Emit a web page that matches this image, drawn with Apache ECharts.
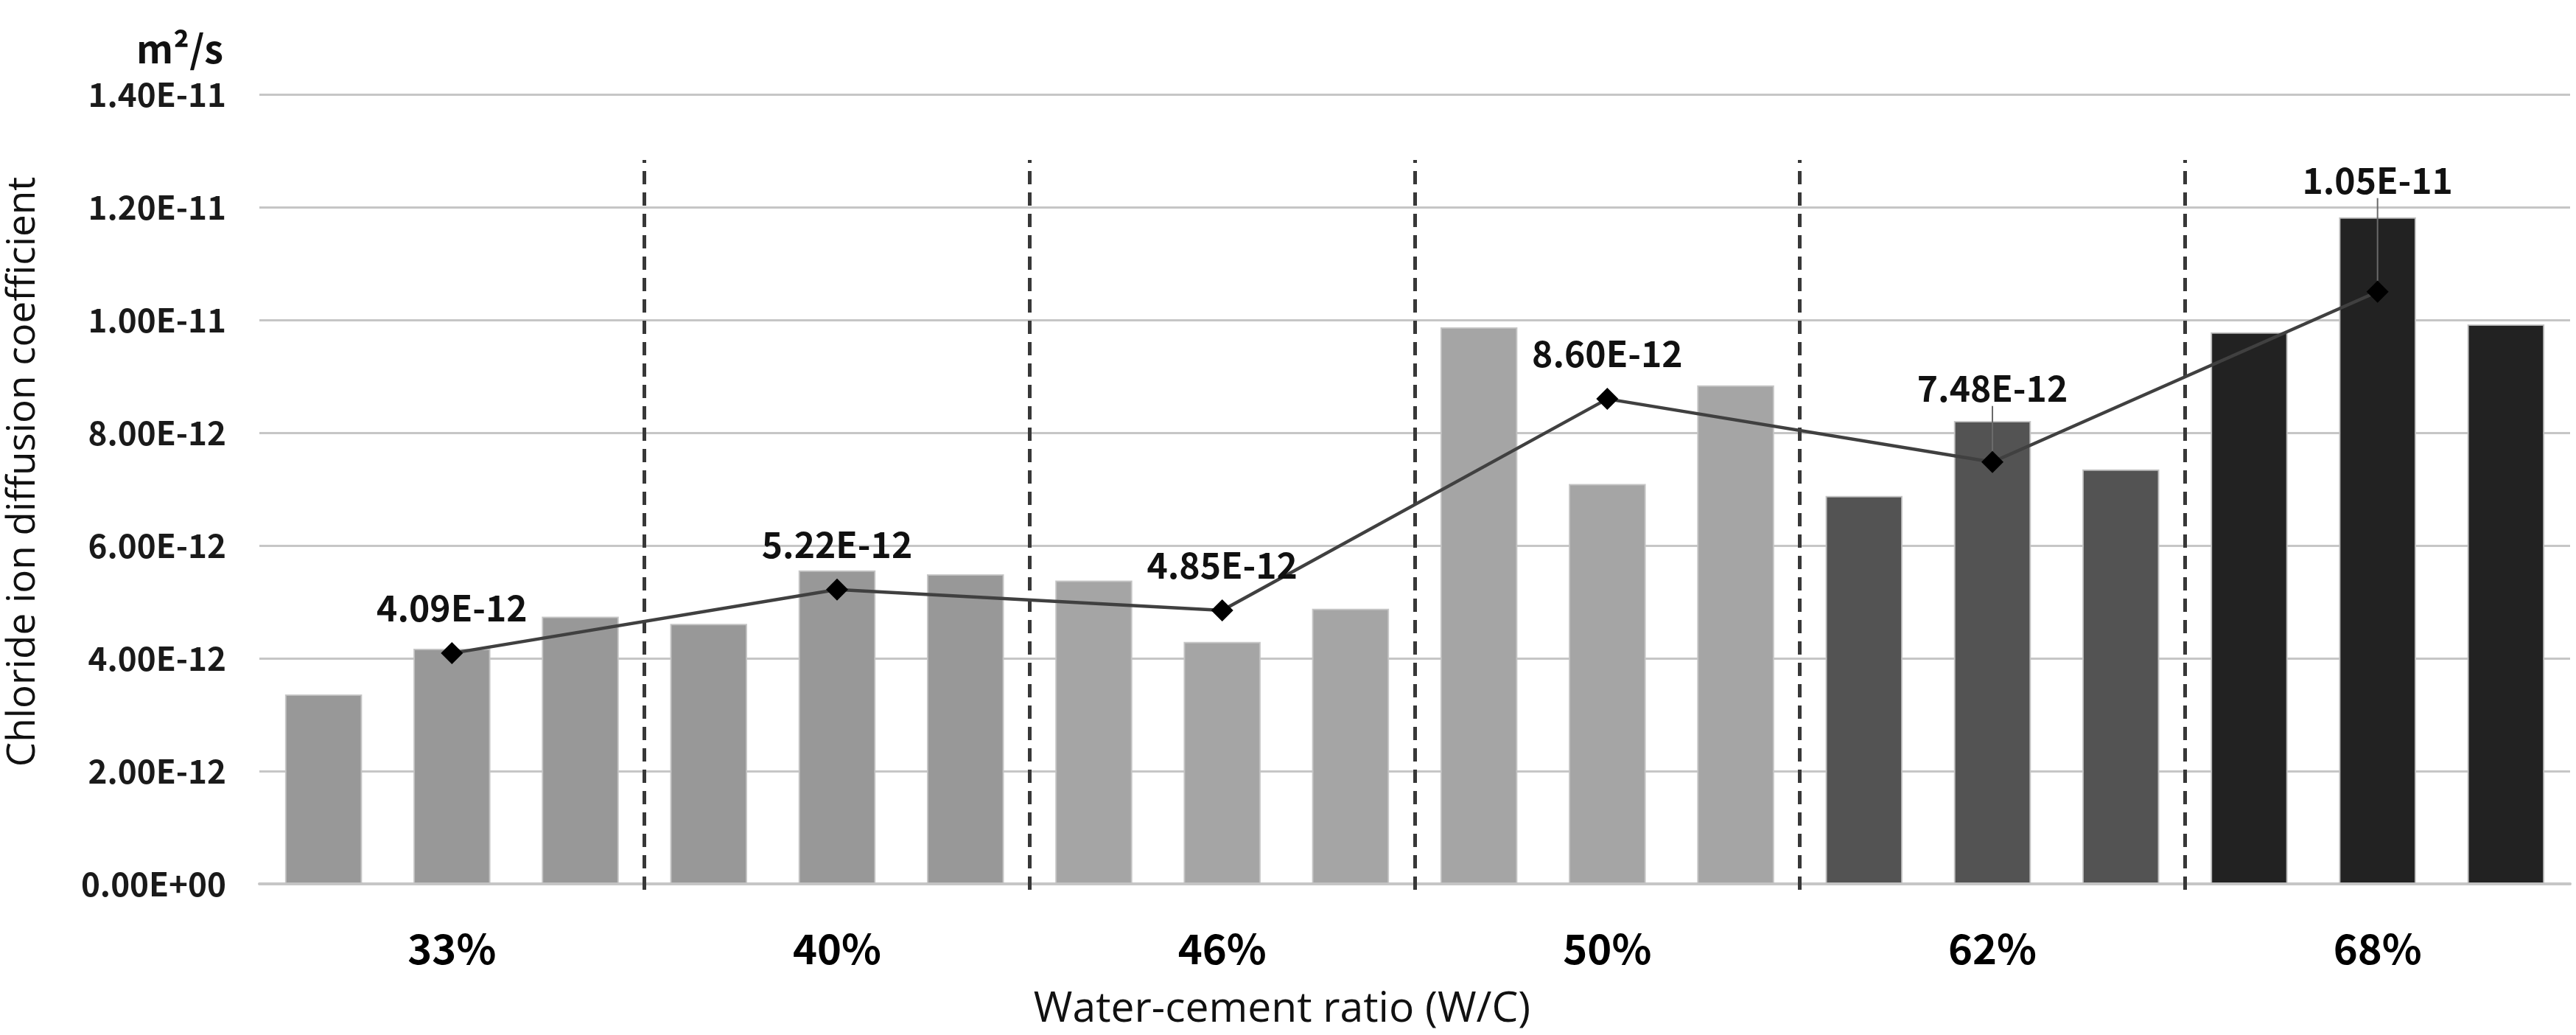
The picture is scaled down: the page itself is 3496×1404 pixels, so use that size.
<!DOCTYPE html>
<html>
<head>
<meta charset="utf-8">
<script src="https://cdn.jsdelivr.net/npm/echarts@6/dist/echarts.min.js"></script>
<style>
  html, body { margin: 0; padding: 0; background: #ffffff; }
  #chart { width: 3496px; height: 1404px; }
</style>
</head>
<body>
<div id="chart"></div>
<script>
// ---- data (values in units of 1E-12 m²/s) ----
const UNIT = 1e-12;
const categories = ['33%', '40%', '46%', '50%', '62%', '68%'];
const sample1 = [3.36, 4.61, 5.38, 9.87, 6.88, 9.78];
const sample2 = [4.17, 5.56, 4.29, 7.09, 8.21, 11.82];
const sample3 = [4.74, 5.49, 4.88, 8.84, 7.35, 9.92];
const means   = [4.09, 5.22, 4.85, 8.60, 7.48, 10.5];
const yTicks = { min: 0, max: 14, interval: 2 };
const dividers = [1, 2, 3, 4, 5];
const unitText = 'm²/s';
const xTitle = 'Water-cement ratio (W/C)';
const yTitle = 'Chloride ion diffusion coefficient';

// ---- helpers ----
function sci(x) {
  if (x === 0) return '0.00E+00';
  const parts = x.toExponential(2).split('e');
  const sign = parts[1][0] === '-' ? '-' : '+';
  const digits = parts[1].replace(/^[+-]/, '').padStart(2, '0');
  return parts[0] + 'E' + sign + digits;
}

const groupColors = ['#989898', '#989898', '#a5a5a5', '#a5a5a5', '#535353', '#222222'];
const barSlots = [];
const barData = [];
categories.forEach(function (c, g) {
  [sample1, sample2, sample3].forEach(function (s, k) {
    barSlots.push(c + '-' + (k + 1));
    barData.push({ value: s[g], itemStyle: { color: groupColors[g] } });
  });
});
const lineData = means.map(function (v, i) {
  return { value: v, labelLine: { show: i >= 4 } };
});
const raise = { 4: -39, 5: -90 };

const BOLD = '"Noto Sans CJK KR", "Open Sans", sans-serif';
const REG = '"Open Sans", sans-serif';
const chart = echarts.init(document.getElementById('chart'), null, { renderer: 'canvas' });
chart.setOption({
  animation: false,
  backgroundColor: '#ffffff',
  grid: [
    { left: 352, right: 8, top: 128, bottom: 205 },
    { left: 352, right: 8, top: 217, bottom: 197 }
  ],
  xAxis: [
    {
      type: 'category', gridIndex: 0, data: barSlots,
      axisLabel: { show: false }, axisTick: { show: false },
      axisLine: { show: true, lineStyle: { color: '#c6c6c6', width: 4 } },
      splitLine: { show: false }
    },
    {
      type: 'category', gridIndex: 0, data: categories, position: 'bottom',
      axisLine: { show: false }, axisTick: { show: false },
      axisLabel: { fontFamily: BOLD, fontWeight: 'bold', fontSize: 56, lineHeight: 56, color: '#000', margin: 60 },
      splitLine: { show: false }
    },
    { type: 'value', gridIndex: 1, min: 0, max: 6, show: false }
  ],
  yAxis: [
    {
      type: 'value', gridIndex: 0, min: yTicks.min, max: yTicks.max, interval: yTicks.interval,
      axisLine: { show: false }, axisTick: { show: false },
      axisLabel: {
        fontFamily: BOLD, fontWeight: 'bold', fontSize: 44, color: '#1a1a1a', margin: 45,
        formatter: function (v) { return sci(v * UNIT); }
      },
      splitLine: { lineStyle: { color: '#c6c6c6', width: 3 } }
    },
    { type: 'value', gridIndex: 1, min: 0, max: 1, show: false }
  ],
  series: [
    {
      type: 'bar', xAxisIndex: 0, yAxisIndex: 0, data: barData,
      barCategoryGap: '40%',
      itemStyle: { borderColor: 'rgba(195,195,195,0.9)', borderWidth: 2 },
      z: 2
    },
    {
      type: 'line', xAxisIndex: 2, yAxisIndex: 1, data: [[0, 0]],
      symbol: 'none', lineStyle: { opacity: 0 }, silent: true,
      markLine: {
        silent: true, symbol: 'none', label: { show: false },
        lineStyle: { type: [18, 11], color: '#383838', width: 5 },
        data: dividers.map(function (d) { return { xAxis: d }; })
      },
      z: 3
    },
    {
      type: 'line', xAxisIndex: 1, yAxisIndex: 0, data: lineData,
      symbol: 'diamond', symbolSize: 30,
      itemStyle: { color: '#000000' },
      lineStyle: { color: '#404040', width: 4.5 },
      label: {
        show: true, position: 'top', distance: 22,
        fontFamily: BOLD, fontWeight: 'bold', fontSize: 48, lineHeight: 48, color: '#111',
        formatter: function (p) { return sci(p.value * UNIT); }
      },
      labelLine: { show: false, lineStyle: { color: '#6a6a6a', width: 2 } },
      labelLayout: function (p) {
        if (raise[p.dataIndex] !== undefined) return { dy: raise[p.dataIndex] };
        return {};
      },
      z: 5
    }
  ],
  graphic: [
    {
      type: 'text', x: 303, y: 66,
      style: { text: unitText, fontFamily: BOLD, fontWeight: 'bold', fontSize: 52, fill: '#111', textAlign: 'right', textVerticalAlign: 'middle' }
    },
    {
      type: 'text', x: 1740, y: 1370,
      style: { text: xTitle, fontFamily: REG, fontSize: 57, fill: '#111', textAlign: 'center', textVerticalAlign: 'middle' }
    },
    {
      type: 'text', x: 32, y: 640, rotation: Math.PI / 2,
      style: { text: yTitle, fontFamily: REG, fontSize: 53, fill: '#111', textAlign: 'center', textVerticalAlign: 'middle' }
    }
  ]
});
</script>
</body>
</html>
